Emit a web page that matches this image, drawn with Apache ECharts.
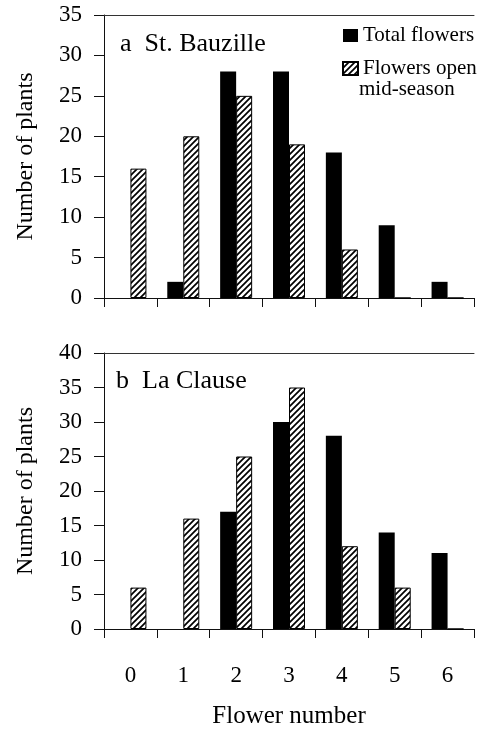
<!DOCTYPE html>
<html>
<head>
<meta charset="utf-8">
<script src="https://cdn.jsdelivr.net/npm/echarts@6/dist/echarts.min.js"></script>
<style>
  html, body { margin: 0; padding: 0; background: #fff; }
  #chart { width: 477px; height: 731px; }
</style>
</head>
<body>
<div id="chart"></div>
<script>
// flower number categories
var categories = ['0', '1', '2', '3', '4', '5', '6'];
// a St. Bauzille
var bauzilleTotal = [0, 2, 28, 28, 18, 9, 2];
var bauzilleOpen = [16, 20, 25, 19, 6, 0, 0];
// b La Clause
var clauseTotal = [0, 0, 17, 30, 28, 14, 11];
var clauseOpen = [6, 16, 25, 35, 12, 6, 0];

var FONT = 'Liberation Serif';

// diagonal hatch pattern
function hatch() {
  var c = document.createElement('canvas');
  c.width = 6; c.height = 6;
  var ctx = c.getContext('2d');
  ctx.fillStyle = '#fff';
  ctx.fillRect(0, 0, 6, 6);
  ctx.strokeStyle = '#000';
  ctx.lineWidth = 1.7;
  ctx.beginPath();
  ctx.moveTo(-1, 7); ctx.lineTo(7, -1);
  ctx.moveTo(-4, 4); ctx.lineTo(4, -4);
  ctx.moveTo(2, 10); ctx.lineTo(10, 2);
  ctx.stroke();
  return { image: c, repeat: 'repeat' };
}
var pattern = hatch();

function xAxes(gridIndex, showLabels) {
  return [{
    type: 'category', gridIndex: gridIndex, data: categories,
    axisLine: { lineStyle: { color: '#111', width: 1 } },
    axisTick: { show: true, inside: false, length: 9, lineStyle: { color: '#111' } },
    axisLabel: { show: showLabels, margin: 35, color: '#000', fontFamily: FONT, fontSize: 23 },
    name: showLabels ? 'Flower number' : '',
    nameLocation: 'middle', nameGap: 75,
    nameTextStyle: { color: '#000', fontFamily: FONT, fontSize: 25 }
  }, {
    type: 'category', gridIndex: gridIndex, data: categories, position: 'top',
    axisLine: { lineStyle: { color: '#333', width: 1 } },
    axisTick: { show: false }, axisLabel: { show: false }
  }];
}

function yAxis(gridIndex, max) {
  return {
    type: 'value', gridIndex: gridIndex, min: 0, max: max, interval: 5,
    splitLine: { show: false },
    axisLine: { show: true, lineStyle: { color: '#111' } },
    axisTick: { show: true, length: 10, lineStyle: { color: '#111' } },
    axisLabel: { margin: 22, color: '#000', fontFamily: FONT, fontSize: 23 },
    name: 'Number of plants', nameLocation: 'middle', nameGap: 66,
    nameTextStyle: { color: '#000', fontFamily: FONT, fontSize: 24 }
  };
}

function bars(name, data, idx, hatched) {
  return {
    type: 'bar', name: name, data: data,
    xAxisIndex: idx * 2, yAxisIndex: idx,
    barWidth: 16, barGap: '0%',
    itemStyle: hatched
      ? { color: pattern, borderColor: '#000', borderWidth: 1 }
      : { color: '#000' },
    emphasis: { disabled: true }
  };
}

var chart = echarts.init(document.getElementById('chart'));
chart.setOption({
  animation: false,
  backgroundColor: '#fff',
  grid: [
    { left: 104, right: 3, top: 15, height: 283 },
    { left: 104, right: 3, top: 353, height: 276 }
  ],
  xAxis: xAxes(0, false).concat(xAxes(1, true)),
  yAxis: [yAxis(0, 35), yAxis(1, 40)],
  title: [
    { text: 'a  St. Bauzille', left: 115, top: 26,
      textStyle: { fontFamily: FONT, fontSize: 26, fontWeight: 'normal', color: '#000' } },
    { text: 'b  La Clause', left: 111, top: 363,
      textStyle: { fontFamily: FONT, fontSize: 26, fontWeight: 'normal', color: '#000' } }
  ],
  legend: {
    orient: 'vertical', left: 337, top: 20,
    itemWidth: 15, itemHeight: 13, itemGap: 12,
    icon: 'rect',
    data: ['Total flowers', 'Flowers open'],
    textStyle: { fontFamily: FONT, fontSize: 21, color: '#000' }
  },
  graphic: [{
    type: 'text', left: 359, top: 79,
    style: { text: 'mid-season', font: '21px "Liberation Serif"', fill: '#000' }
  }],
  series: [
    bars('Total flowers', bauzilleTotal, 0, false),
    bars('Flowers open', bauzilleOpen, 0, true),
    bars('Total flowers', clauseTotal, 1, false),
    bars('Flowers open', clauseOpen, 1, true)
  ]
});
</script>
</body>
</html>
